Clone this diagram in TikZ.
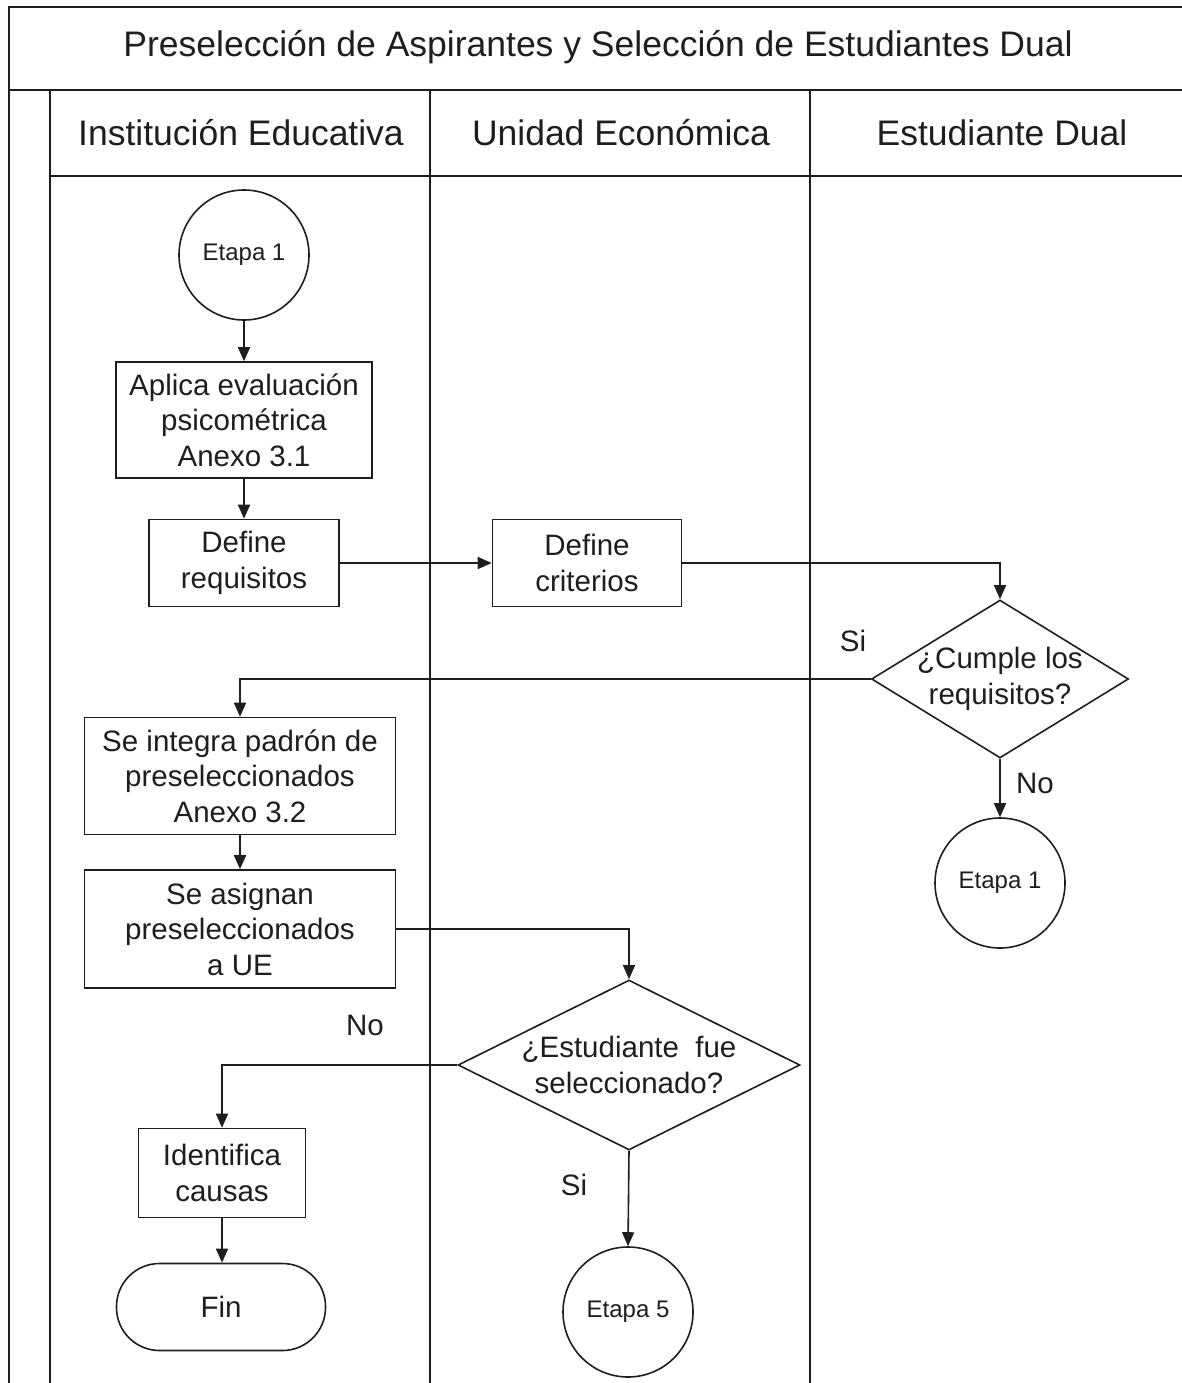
\documentclass[tikz,border=0pt]{standalone}
\usepackage{fontspec}
\setmainfont{Liberation Sans}
\usetikzlibrary{arrows.meta,shapes.geometric}
\definecolor{ink}{HTML}{1E1E1E}
\tikzset{
  lane/.style={draw=ink,line width=1.8pt},
  box/.style={draw=ink,line width=1.6pt,rectangle,inner sep=0pt,align=center,text=ink,font=\fontsize{29.5}{35.5}\selectfont},
  circ/.style={draw=ink,line width=1.6pt,circle,inner sep=0pt,minimum size=130pt,text=ink,font=\fontsize{24}{28}\selectfont},
  dia/.style={draw=ink,line width=1.6pt,diamond,inner sep=0pt},
  txt/.style={align=center,text=ink,font=\fontsize{29.5}{35.5}\selectfont},
  head/.style={text=ink,font=\fontsize{35.5}{40}\selectfont},
  arr/.style={draw=ink,line width=1.6pt,-{Triangle[length=14pt,width=12pt]}},
}
\begin{document}
\begin{tikzpicture}[x=1pt,y=-1pt]
\useasboundingbox[fill=white] (0,0) rectangle (1182,1383);
% frame
\draw[lane] (1182,7) -- (9,7) -- (9,1383);
\draw[lane] (9,90) -- (1182,90);
\draw[lane] (50,90) -- (50,1383);
\draw[lane] (50,176) -- (1182,176);
\draw[lane] (430,90) -- (430,1383);
\draw[lane] (810,90) -- (810,1383);
% headers
\node[head] (title) at (598,47) {Preselección de Aspirantes y Selección de Estudiantes Dual};
\node[head] (h1) at (241,133) {Institución Educativa};
\node[head] (h2) at (621,133) {Unidad Económica};
\node[head] (h3) at (1002,133) {Estudiante Dual};
% nodes
\node[circ] (e1) at (244,255) {Etapa 1};
\node[box,minimum width=256pt,minimum height=116pt] (apl) at (244,420) {Aplica evaluación\\psicométrica\\Anexo 3.1};
\node[box,minimum width=190pt,minimum height=87pt] (req) at (244,563) {Define\\requisitos};
\node[box,minimum width=189pt,minimum height=87pt] (crit) at (587,563) {Define\\criterios};
\node[dia,minimum width=257pt,minimum height=158pt] (d1) at (1000,679) {};
\node[txt] (d1t) at (d1) {¿Cumple los\\requisitos?};
\node[box,minimum width=311pt,minimum height=117pt] (integ) at (240,776) {Se integra padrón de\\preseleccionados\\Anexo 3.2};
\node[box,minimum width=311pt,minimum height=118pt] (asig) at (240,929) {Se asignan\\preseleccionados\\a UE};
\node[circ] (e1b) at (1000,883) {Etapa 1};
\node[dia,minimum width=342pt,minimum height=170pt] (d2) at (629,1065) {};
\node[txt] (d2t) at (d2) {¿Estudiante\ \ fue\\seleccionado?};
\node[box,minimum width=167pt,minimum height=89pt] (ident) at (222,1173) {Identifica\\causas};
\node[box,minimum width=209pt,minimum height=87pt,rounded corners=43pt] (fin) at (221,1307) {Fin};
\node[circ] (e5) at (628,1312) {Etapa 5};
% labels
\node[txt] (l1) at (853,641) {Si};
\node[txt] (l2) at (1035,783) {No};
\node[txt] (l3) at (365,1025) {No};
\node[txt] (l4) at (574,1185) {Si};
% connectors
\draw[arr] (e1.south) -- (e1.south |- apl.north);
\draw[arr] (apl.south) -- (apl.south |- req.north);
\draw[arr] (req) -- (crit);
\draw[arr] (crit.east) -| (d1.north);
\draw[arr] (d1.west) -| (integ.north);
\draw[arr] (d1.south) -- (e1b.north);
\draw[arr] (integ.south) -- (integ.south |- asig.north);
\draw[arr] (asig.east) -| (d2.north);
\draw[arr] (d2.west) -| (ident.north);
\draw[arr] (ident.south) -- (ident.south |- fin.north);
\draw[arr] (d2.south) -- (e5.north);
\end{tikzpicture}
\end{document}
